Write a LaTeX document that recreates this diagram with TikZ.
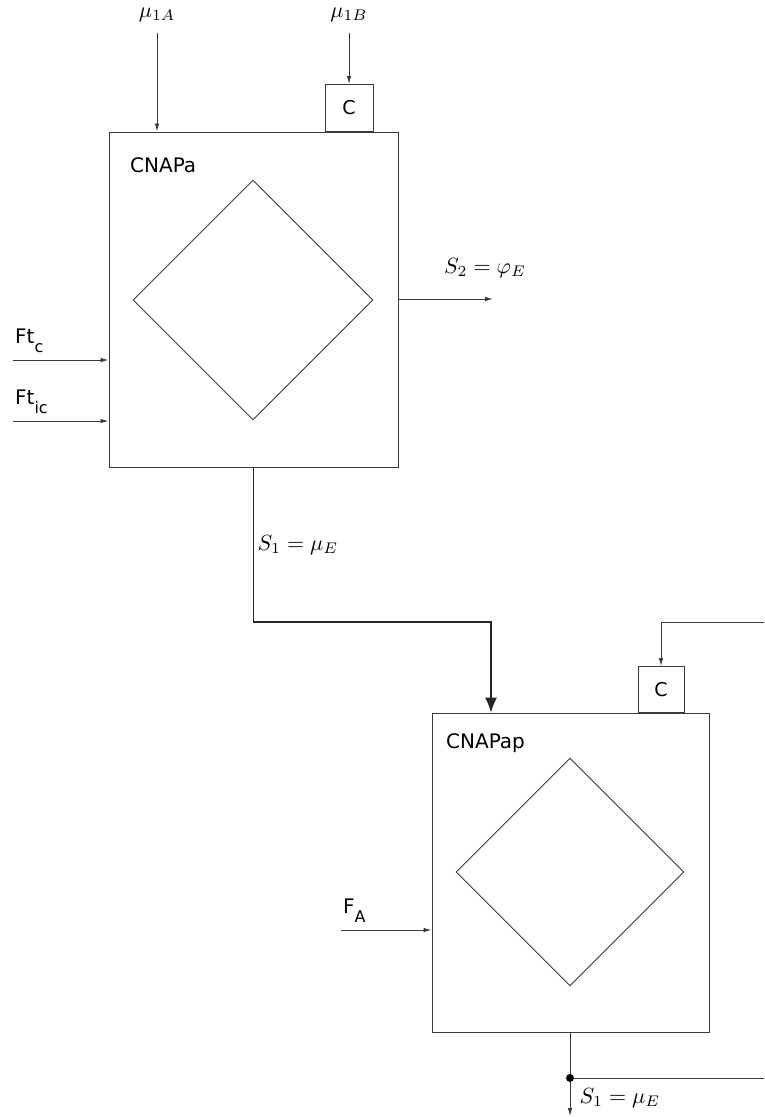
\documentclass[tikz,border=0pt]{standalone}
\usepackage{fontspec}
\setsansfont{DejaVu Sans}
\usetikzlibrary{arrows.meta,positioning,shapes.geometric}
\definecolor{Line}{HTML}{3A3A3A}
\newcommand{\lowsub}[1]{\raisebox{-0.45em}{\fontsize{16}{16}\selectfont #1}}
\begin{document}
\begin{tikzpicture}[x=1pt,y=-1pt,
unit/.style={draw=Line,line width=1pt,rectangle,inner sep=0pt},
ctrl/.style={draw=Line,line width=1pt,rectangle,inner sep=0pt,font=\sffamily\fontsize{19}{19}\selectfont},
rhomb/.style={draw=Line,line width=0.9pt,diamond,aspect=1,inner sep=0pt},
tag/.style={font=\sffamily\fontsize{20}{20}\selectfont,inner sep=1pt},
mtag/.style={scale=2.2,inner sep=0.5pt},
flow/.style={-{Latex[length=8pt,width=4.5pt]},line width=0.9pt,draw=Line},
line/.style={line width=0.9pt,draw=Line},
bigflow/.style={-{Latex[length=15pt,width=12pt]},line width=1.1pt,draw=black!85}]
\useasboundingbox (0,0) rectangle (764,1117);
% first unit
\node[unit,minimum width=289pt,minimum height=335pt] (cnapa) at (253.5,299.5) {};
\node[rhomb,minimum size=240pt] (rha) at (253,300) {};
\node[ctrl,minimum width=48pt,minimum height=47pt,anchor=south] (ca) at (349,132) {C};
\node[tag,anchor=west] (cnapaname) at (129,165) {CNAPa};
\node[mtag] (mua) at (157,15) {$\mu_{1A}$};
\node[mtag] (mub) at (349,15) {$\mu_{1B}$};
\draw[flow] ([yshift=-10pt]mua.south) -- (mua.south |- cnapa.north);
\draw[flow] ([yshift=-10pt]mub.south) -- (ca.north);
\coordinate (ftc) at (13,360);
\coordinate (ftic) at (13,421);
\node[tag,anchor=south west] (ftclbl) at (14,354) {Ft\lowsub{c}};
\node[tag,anchor=south west] (fticlbl) at (14,415) {Ft\lowsub{ic}};
\draw[flow] (ftc) -- (ftc -| cnapa.west);
\draw[flow] (ftic) -- (ftic -| cnapa.west);
\coordinate (s2end) at (493,299);
\draw[flow] (s2end -| cnapa.east) -- (s2end);
\node[mtag] (s2lbl) at (485,268) {$S_2=\varphi_E$};
% link to second unit
\coordinate (bend) at (491,622);
\node[mtag,anchor=west] (s1lbl) at (256,545) {$S_1=\mu_E$};
% second unit
\node[unit,minimum width=277pt,minimum height=319pt] (cnapap) at (570.5,872.5) {};
\node[rhomb,minimum size=228pt] (rhb) at (570,872) {};
\node[ctrl,minimum width=46pt,minimum height=46pt,anchor=south] (cb) at (661,713) {C};
\node[tag,anchor=west] (cnapapname) at (445,743) {CNAPap};
\draw[bigflow] (cnapa.south) |- (bend) -- (bend |- cnapap.north);
\coordinate (fb) at (764,622);
\draw[flow] (fb) -| (cb.north);
\coordinate (fa) at (341,930);
\node[tag,anchor=south west] (falbl) at (342,924) {F\lowsub{A}};
\draw[flow] (fa) -- (fa -| cnapap.west);
% output
\coordinate (outend) at (570,1116);
\coordinate (tap) at (570,1078);
\coordinate (tapend) at (764,1078);
\draw[flow] (cnapap.south -| outend) -- (outend);
\draw[line] (tap) -- (tapend);
\fill (tap) circle (4pt);
\node[mtag,anchor=west] (s1out) at (578,1098) {$S_1=\mu_E$};
\end{tikzpicture}
\end{document}
